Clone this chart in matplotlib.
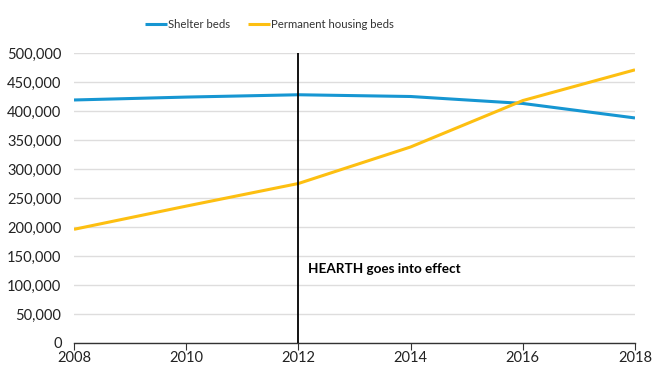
import matplotlib
matplotlib.use("Agg")
import matplotlib.pyplot as plt
from matplotlib.ticker import FuncFormatter

years = [2008, 2010, 2012, 2014, 2016, 2018]
shelter_beds = [419000, 424000, 428000, 425000, 413000, 388000]
permanent_beds = [196000, 236000, 275000, 338000, 418000, 471000]
series_labels = ["Shelter beds", "Permanent housing beds"]
annotation = "HEARTH goes into effect"
event_year = 2012

plt.rcParams['font.family'] = ['Lato', 'DejaVu Sans']

fig = plt.figure(figsize=(6.54, 3.65), dpi=100)
ax = fig.add_axes([74/654, 1 - 343/365, (635-74)/654, (343-53)/365])

ax.plot(years, shelter_beds, color="#1696d2", lw=2.2, label=series_labels[0], solid_capstyle="butt")
ax.plot(years, permanent_beds, color="#fdbf11", lw=2.2, label=series_labels[1], solid_capstyle="butt")
ax.axvline(event_year, color="#000000", lw=1.3, zorder=3)
ax.text(event_year + 0.18, 127000, annotation, fontsize=9.7, fontweight="bold",
        color="#000000", va="center", ha="left")

ax.set_xlim(2008, 2018)
ax.set_ylim(0, 500000)
ax.set_xticks(years)
ax.set_yticks(range(0, 500001, 50000))
ax.yaxis.set_major_formatter(FuncFormatter(lambda v, p: f"{int(v):,}"))
ax.grid(axis="y", color="#dedddd", lw=1)
ax.set_axisbelow(True)
for s in ["left", "right", "top"]:
    ax.spines[s].set_visible(False)
ax.spines["bottom"].set_color("#333333")
ax.spines["bottom"].set_linewidth(1)
ax.tick_params(axis="y", length=0, pad=9, labelsize=10.5, labelcolor="#222222")
ax.tick_params(axis="x", length=5, direction="out", color="#333333", labelsize=10.5,
               labelcolor="#222222", pad=1)

fig.legend(loc="center", bbox_to_anchor=(0.412, 1 - 24/365), ncol=2, frameon=False,
           fontsize=8.2, handlelength=1.9, handletextpad=0.1, columnspacing=1.6,
           labelcolor="#333333")

fig.savefig("out.png", dpi=100)
